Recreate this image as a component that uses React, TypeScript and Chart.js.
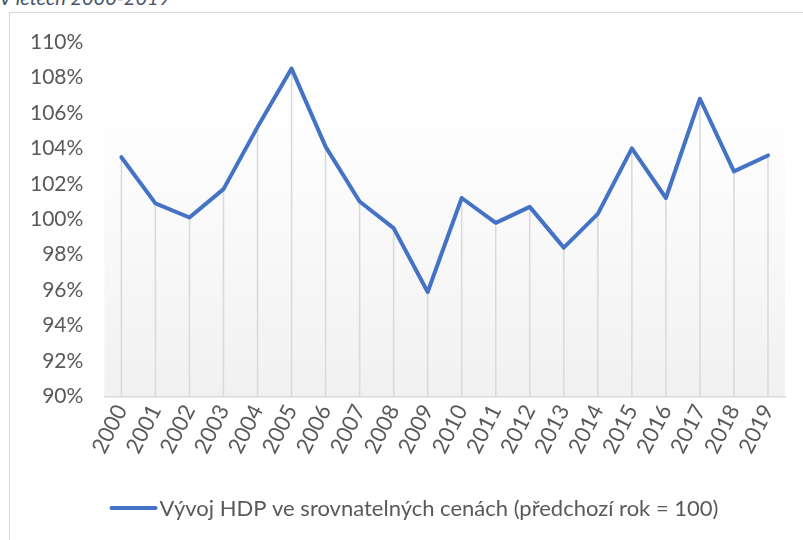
import React, { useEffect, useRef } from "react";
import { Chart, registerables } from "chart.js";

Chart.register(...registerables);

const years = ["2000","2001","2002","2003","2004","2005","2006","2007","2008","2009","2010","2011","2012","2013","2014","2015","2016","2017","2018","2019"];
const gdpIndex = [103.5,100.9,100.1,101.7,105.2,108.5,104.1,101.0,99.5,95.9,101.2,99.8,100.7,98.4,100.3,104.0,101.2,106.8,102.7,103.6];
const seriesLabel = "Vývoj HDP ve srovnatelných cenách (předchozí rok = 100)";
const titleText = "V letech 2000-2019";
const yMin = 90;
const yMax = 110;
const yStep = 2;

const FONT = "Lato, 'Open Sans', sans-serif";
const BLUE = "#4472c4";
const TEXT = "#595959";

const plotBg = {
  id: "plotBg",
  beforeDraw(chart: any) {
    const { ctx, chartArea } = chart;
    if (!chartArea) return;
    const g = ctx.createLinearGradient(0, chartArea.top, 0, chartArea.bottom);
    g.addColorStop(0, "#ffffff");
    g.addColorStop(0.24, "#fefefe");
    g.addColorStop(1, "#f1f1f1");
    ctx.save();
    ctx.fillStyle = g;
    ctx.fillRect(chartArea.left, chartArea.top, chartArea.right - chartArea.left, chartArea.bottom - chartArea.top);
    ctx.restore();
  },
};

const dropLines = {
  id: "dropLines",
  beforeDatasetsDraw(chart: any) {
    const { ctx, chartArea } = chart;
    const meta = chart.getDatasetMeta(0);
    ctx.save();
    ctx.strokeStyle = "#d9d9d9";
    ctx.lineWidth = 1.5;
    meta.data.forEach((pt: any) => {
      ctx.beginPath();
      ctx.moveTo(pt.x, pt.y);
      ctx.lineTo(pt.x, chartArea.bottom);
      ctx.stroke();
    });
    ctx.restore();
  },
};

// Simple legend drawn below the axis (centred in the bordered chart box)
const bottomLegend = {
  id: "bottomLegend",
  afterDraw(chart: any) {
    const { ctx } = chart;
    const ds = chart.data.datasets[0];
    const lineLen = 48;
    const gap = 2;
    const y = 508;
    const boxCenter = 414;
    ctx.save();
    ctx.font = `22px ${FONT}`;
    const tw = ctx.measureText(ds.label).width;
    const x0 = boxCenter - (lineLen + gap + tw) / 2;
    ctx.strokeStyle = ds.borderColor;
    ctx.lineWidth = 4;
    ctx.lineCap = "round";
    ctx.beginPath();
    ctx.moveTo(x0 + 2, y);
    ctx.lineTo(x0 + lineLen - 2, y);
    ctx.stroke();
    ctx.fillStyle = TEXT;
    ctx.textBaseline = "middle";
    ctx.textAlign = "left";
    ctx.fillText(ds.label, x0 + lineLen + gap, y + 1);
    ctx.restore();
  },
};

export default function App() {
  const ref = useRef<HTMLCanvasElement | null>(null);
  useEffect(() => {
    if (!ref.current) return;
    const chart = new Chart(ref.current, {
      type: "line",
      data: {
        labels: years,
        datasets: [
          {
            label: seriesLabel,
            data: gdpIndex,
            borderColor: BLUE,
            backgroundColor: BLUE,
            borderWidth: 4,
            pointRadius: 0,
            pointHoverRadius: 0,
            tension: 0,
            borderCapStyle: "round",
            borderJoinStyle: "round",
          },
        ],
      },
      options: {
        responsive: false,
        animation: false,
        layout: { padding: { left: 9, right: 18, top: 42, bottom: 78 } },
        scales: {
          x: {
            offset: true,
            grid: { display: false, drawTicks: false },
            border: { display: true, color: "#d9d9d9", width: 1.5 },
            ticks: {
              color: TEXT,
              font: { family: FONT, size: 22 },
              minRotation: 63,
              maxRotation: 63,
              padding: 4,
              autoSkip: false,
            },
          },
          y: {
            min: yMin,
            max: yMax,
            grid: { display: false, drawTicks: false },
            border: { display: false },
            ticks: {
              stepSize: yStep,
              color: TEXT,
              font: { family: FONT, size: 21 },
              padding: 21,
              callback: (v: any) => v + "%",
            },
          },
        },
        plugins: {
          legend: { display: false },
          tooltip: { enabled: false },
        },
      },
      plugins: [plotBg, dropLines, bottomLegend],
    });
    return () => chart.destroy();
  }, []);

  return (
    <div style={{ position: "fixed", left: 0, top: 0, width: 803, height: 540, overflow: "hidden", background: "#fff" }}>
      <div
        style={{
          position: "absolute",
          left: -1,
          top: -13,
          fontFamily: FONT,
          fontStyle: "italic",
          fontSize: 20,
          lineHeight: "20px",
          color: "#44546a",
          whiteSpace: "nowrap",
        }}
      >
        {titleText}
      </div>
      <div
        style={{
          position: "absolute",
          left: 9,
          top: 12,
          width: 900,
          height: 600,
          border: "1.5px solid #d9d9d9",
          boxSizing: "border-box",
        }}
      />
      <canvas ref={ref} width={803} height={540} style={{ position: "absolute", left: 0, top: 0 }} />
    </div>
  );
}
